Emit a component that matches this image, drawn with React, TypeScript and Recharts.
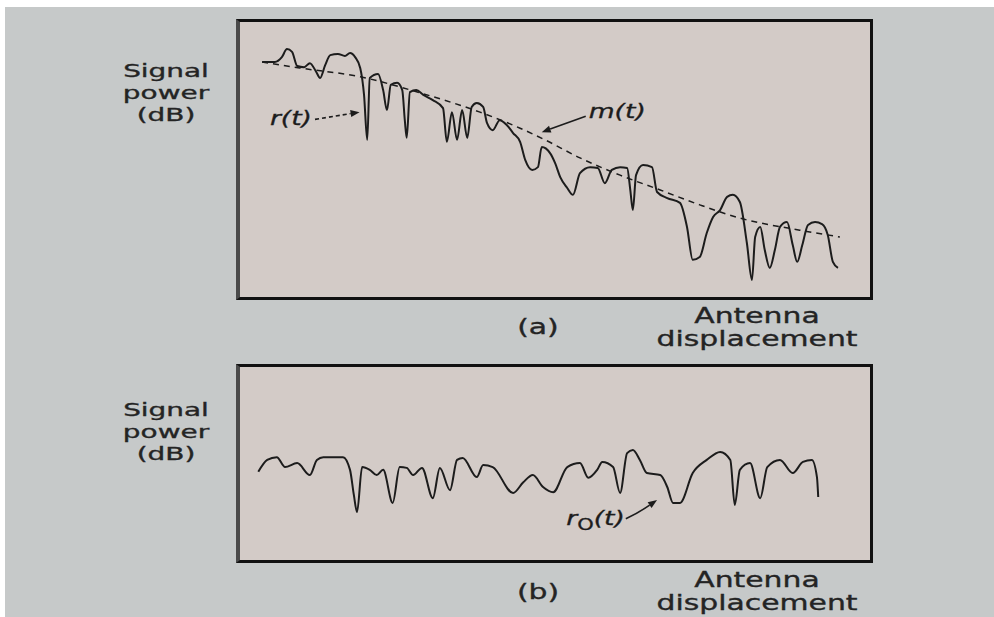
import { LineChart, Line, XAxis, YAxis, ReferenceLine } from 'recharts'

// displacement along the run (% of total), received power (dB)
const rDisp = [
  4.1, 6.1, 7.2, 8.0, 8.8, 9.6, 10.7, 11.6, 12.6, 13.2, 14.0, 14.8, 16.0, 17.1, 17.9, 18.7, 19.5,
  20.1, 20.6, 21.0, 22.3, 23.1, 23.7, 24.3, 25.3, 26.1, 26.5, 26.8, 27.3, 28.3, 29.4, 30.9, 32.5,
  33.1, 33.9, 34.7, 35.5, 36.3, 37.0, 37.8, 38.8, 39.4, 40.3, 41.4, 42.5, 43.5, 44.6, 45.4, 46.5,
  47.4, 48.0, 49.3, 50.1, 50.9, 52.0, 52.9, 54.0, 55.6, 56.8, 57.9, 59.0, 60.3, 61.4, 61.9, 62.3,
  62.8, 63.9, 65.3, 66.1, 67.7, 69.7, 70.8, 71.7, 72.8, 73.9, 74.9, 76.0, 77.1, 78.0, 79.1, 80.2,
  81.0, 81.5, 82.3, 83.0, 83.8, 84.6, 85.4, 86.5, 87.4, 88.1, 88.9, 89.8, 90.9, 92.0, 92.9, 93.7,
  94.5,
]
const rPower = [
  -10.7, -10.7, -9.5, -7.5, -8.2, -11.7, -12.0, -11.0, -13.2, -14.7, -11.5, -9.0, -8.7, -9.2, -8.5,
  -9.5, -12.2, -18.9, -30.1, -14.7, -13.7, -17.7, -22.7, -16.4, -15.9, -17.7, -25.2, -29.6, -18.2,
  -17.7, -18.9, -20.2, -22.2, -30.6, -23.2, -30.1, -22.7, -29.6, -21.9, -20.9, -21.9, -25.9, -27.7,
  -25.2, -26.4, -28.4, -30.6, -35.1, -37.6, -36.9, -31.9, -33.4, -35.9, -39.4, -42.1, -43.8, -38.4,
  -36.9, -37.1, -40.9, -37.6, -36.9, -37.1, -42.6, -47.6, -38.9, -36.4, -36.9, -43.1, -44.6, -45.8,
  -51.8, -60.0, -59.3, -53.3, -49.3, -47.6, -44.3, -43.8, -45.6, -55.8, -65.0, -54.3, -51.8, -57.5,
  -62.0, -57.5, -51.8, -50.6, -56.3, -60.5, -56.3, -51.3, -50.6, -51.1, -53.8, -60.5, -62.0,
]

// local mean m(t)
const mDisp = [4.1, 10.0, 19.5, 28.9, 38.3, 44.6, 48.5, 54.0, 60.3, 66.6, 72.8, 79.1, 88.5, 94.8]
const mPower = [
  -10.7, -12.2, -14.4, -18.4, -23.2, -27.2, -30.1, -34.6, -38.9, -42.6, -46.3, -49.6, -52.6, -54.3,
]

// fading after the mean is removed, r0(t)
const r0Disp = [
  3.5, 4.9, 6.4, 7.7, 9.6, 11.6, 12.7, 13.7, 16.8, 17.9, 18.5, 19.0, 19.8, 21.0, 22.1, 23.1, 24.6,
  25.7, 26.8, 27.8, 29.2, 30.9, 32.0, 33.6, 34.7, 35.6, 37.8, 38.8, 40.3, 43.5, 45.1, 46.6, 48.2,
  49.8, 52.0, 54.0, 55.3, 56.7, 57.5, 59.2, 60.3, 61.4, 62.3, 63.4, 64.5, 66.6, 67.7, 68.6, 69.7,
  71.7, 73.9, 76.0, 77.6, 78.3, 79.1, 80.7, 82.3, 83.4, 85.4, 87.4, 89.0, 90.4, 91.2, 91.4,
]
const r0Power = [
  -27.1, -24.1, -23.4, -25.9, -24.9, -27.9, -24.1, -23.4, -23.4, -26.6, -32.9, -37.2, -25.9, -26.6,
  -27.9, -26.6, -34.9, -25.9, -26.1, -27.9, -26.1, -33.7, -26.1, -31.7, -24.1, -23.6, -28.4, -25.4,
  -25.9, -32.4, -29.7, -27.9, -30.9, -32.2, -25.9, -24.9, -28.6, -26.6, -24.6, -25.9, -32.4, -22.4,
  -21.6, -24.1, -27.4, -27.9, -30.9, -34.9, -34.9, -27.4, -24.1, -22.1, -24.1, -35.4, -26.6, -24.9,
  -33.7, -25.9, -24.1, -27.4, -24.6, -24.1, -28.4, -33.4,
]

const toPoints = (xs: number[], ys: number[]) => xs.map((d, i) => ({ d, p: ys[i] }))

const INK = '#1c1c1c'
const LABEL_FONT = '"DejaVu Sans", sans-serif'

type ArrowOpts = {
  label: React.ReactNode
  dashed?: boolean
  bend?: number
  labelDx: number
  labelDy: number
  anchor: 'start' | 'end'
}

// arrow from tail to tip, label placed beside the tail
function arrowShape({ label, dashed, bend = 0, labelDx, labelDy, anchor }: ArrowOpts) {
  return (props: any) => {
    const { x1, y1, x2, y2 } = props
    const mx = (x1 + x2) / 2 + bend
    const my = (y1 + y2) / 2 - bend
    const ang = Math.atan2(y2 - my, x2 - mx)
    const len = 9
    const w = 3.5
    const bx = x2 - len * Math.cos(ang)
    const by = y2 - len * Math.sin(ang)
    const head = `${x2},${y2} ${bx - w * Math.sin(ang)},${by + w * Math.cos(ang)} ${bx + w * Math.sin(ang)},${by - w * Math.cos(ang)}`
    return (
      <g>
        <path
          d={`M${x1},${y1} Q${mx},${my} ${bx},${by}`}
          fill="none"
          stroke={INK}
          strokeWidth={1.6}
          strokeDasharray={dashed ? '4 3' : undefined}
        />
        <polygon points={head} fill={INK} />
        <text
          transform={`translate(${x1 + labelDx},${y1 + labelDy}) scale(1.4,1)`}
          textAnchor={anchor}
          fontFamily={LABEL_FONT}
          fontStyle="italic"
          fontSize={19}
          fill={INK}
          stroke={INK}
          strokeWidth={0.3}
        >
          {label}
        </text>
      </g>
    )
  }
}

function Panel({
  top,
  height,
  yDomain,
  children,
}: {
  top: number
  height: number
  yDomain: [number, number]
  children: React.ReactNode
}) {
  return (
    <div style={{ position: 'absolute', left: 236, top, width: 637, height }}>
      <div
        style={{
          position: 'absolute',
          inset: 0,
          boxSizing: 'border-box',
          background: '#d3cbc7',
          borderTop: '3px solid #111',
          borderRight: '3px solid #111',
          borderBottom: '3px solid #111',
          borderLeft: '4px solid #4a4a4a',
        }}
      />
      <LineChart
        width={637}
        height={height}
        margin={{ top: 0, right: 0, bottom: 0, left: 0 }}
        style={{ position: 'absolute', left: 0, top: 0, overflow: 'visible' }}
      >
        <XAxis type="number" dataKey="d" domain={[0, 100]} hide allowDataOverflow />
        <YAxis type="number" dataKey="p" domain={yDomain} hide allowDataOverflow />
        {children}
      </LineChart>
    </div>
  )
}

const textBase = {
  position: 'absolute' as const,
  fontFamily: LABEL_FONT,
  color: '#242424',
  textAlign: 'center' as const,
  WebkitTextStroke: '0.35px #242424',
}

// y is the centre of the first line
function SideLabel({ y }: { y: number }) {
  return (
    <div
      style={{
        ...textBase,
        left: 106,
        top: y - 11,
        width: 120,
        fontSize: 18,
        lineHeight: '22px',
        transform: 'scaleX(1.55)',
      }}
    >
      Signal
      <br />
      power
      <br />
      (dB)
    </div>
  )
}

function BottomLabels({ antennaY, tagY, tag }: { antennaY: number; tagY: number; tag: string }) {
  const base = { ...textBase, fontSize: 21, lineHeight: '23px', transform: 'scaleX(1.42)' }
  return (
    <>
      <div style={{ ...base, left: 498, top: tagY - 11.5, width: 80 }}>{tag}</div>
      <div style={{ ...base, left: 667, top: antennaY - 11.5, width: 180 }}>
        Antenna
        <br />
        displacement
      </div>
    </>
  )
}

export default function App() {
  const rData = toPoints(rDisp, rPower)
  const mData = toPoints(mDisp, mPower)
  const r0Data = toPoints(r0Disp, r0Power)

  return (
    <div style={{ position: 'absolute', left: 0, top: 0, width: 994, height: 617, background: '#fff' }}>
      <div style={{ position: 'absolute', left: 5, top: 7, right: 0, bottom: 0, background: '#c6c9c9' }} />

      <SideLabel y={71} />
      <Panel top={19} height={281} yDomain={[-70, 0]}>
        <Line
          data={mData}
          dataKey="p"
          type="monotone"
          stroke={INK}
          strokeWidth={1.5}
          strokeDasharray="6 5"
          dot={false}
          isAnimationActive={false}
        />
        <Line
          data={rData}
          dataKey="p"
          type="monotone"
          stroke={INK}
          strokeWidth={2}
          dot={false}
          isAnimationActive={false}
        />
        <ReferenceLine
          segment={[
            { x: 12.4, y: -25.0 },
            { x: 19.4, y: -23.2 },
          ]}
          shape={arrowShape({ label: 'r(t)', dashed: true, labelDx: -3, labelDy: 6, anchor: 'end' })}
        />
        <ReferenceLine
          segment={[
            { x: 54.9, y: -24.2 },
            { x: 48.0, y: -28.2 },
          ]}
          shape={arrowShape({ label: 'm(t)', labelDx: 3, labelDy: 2, anchor: 'start' })}
        />
      </Panel>
      <BottomLabels antennaY={316} tagY={327} tag="(a)" />

      <SideLabel y={410} />
      <Panel top={364} height={199} yDomain={[-50, 0]}>
        <Line
          data={r0Data}
          dataKey="p"
          type="monotone"
          stroke={INK}
          strokeWidth={2}
          dot={false}
          isAnimationActive={false}
        />
        <ReferenceLine
          segment={[
            { x: 61.2, y: -38.9 },
            { x: 66.1, y: -34.2 },
          ]}
          shape={arrowShape({
            label: (
              <>
                r<tspan fontSize={15} dy={5} fontStyle="normal">O</tspan>
                <tspan dy={-5}>(t)</tspan>
              </>
            ),
            bend: -4,
            labelDx: -1,
            labelDy: 6,
            anchor: 'end',
          })}
        />
      </Panel>
      <BottomLabels antennaY={580} tagY={592} tag="(b)" />
    </div>
  )
}
